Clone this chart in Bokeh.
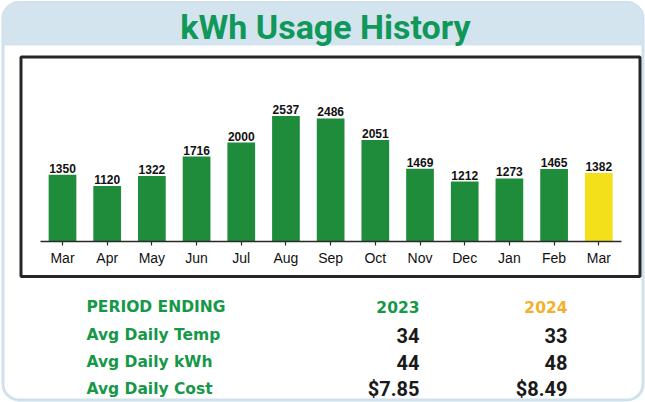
from bokeh.plotting import figure
from bokeh.models import BoxAnnotation, Label, ColumnDataSource, Range1d, FixedTicker
from bokeh.core.properties import value
from bokeh.embed import file_html
from bokeh.resources import INLINE

# ---- data ----
periods = ["Mar 2023", "Apr 2023", "May 2023", "Jun 2023", "Jul 2023", "Aug 2023",
           "Sep 2023", "Oct 2023", "Nov 2023", "Dec 2023", "Jan 2024", "Feb 2024", "Mar 2024"]
month_labels = ["Mar", "Apr", "May", "Jun", "Jul", "Aug", "Sep", "Oct", "Nov", "Dec", "Jan", "Feb", "Mar"]
kwh = [1350, 1120, 1322, 1716, 2000, 2537, 2486, 2051, 1469, 1212, 1273, 1465, 1382]

table_header = ["PERIOD ENDING", "2023", "2024"]
row_labels = ["Avg Daily Temp", "Avg Daily kWh", "Avg Daily Cost"]
values_2023 = ["34", "44", "$7.85"]
values_2024 = ["33", "48", "$8.49"]

# ---- styles ----
GREEN_BAR = "#1f8c3c"
YELLOW_BAR = "#f4e01a"
GREEN_TXT = "#169848"
TITLE_GREEN = "#10985a"
ORANGE_TXT = "#f4b02c"
BAND = "#d4e4ee"
CARD_LINE = "#cfe1ec"

idx = list(range(len(periods)))
bar_colors = [YELLOW_BAR if k == periods[-1] else GREEN_BAR for k in periods]

source = ColumnDataSource(dict(x=idx, period=periods, kwh=kwh,
                               label=[str(v) for v in kwh], color=bar_colors))

W, H = 645, 402
PX_X = 44.69          # pixels per category
X0 = 62               # canvas x of first category centre
BASE = 241            # canvas y of the zero line
PX_Y = 0.0495         # pixels per kWh

p = figure(x_range=Range1d(-X0 / PX_X, (W - X0) / PX_X),
           y_range=Range1d(-(H - BASE) / PX_Y, BASE / PX_Y),
           width=W, height=H, output_backend="svg", toolbar_location=None,
           y_axis_location=None,
           min_border_left=0, min_border_right=0, min_border_top=0, min_border_bottom=0)
p.xgrid.grid_line_color = None
p.ygrid.grid_line_color = None
p.outline_line_color = None
p.background_fill_color = "white"
p.border_fill_color = "white"

ax = p.xaxis[0]
ax.fixed_location = 0
ax.bounds = (-0.5, len(periods) - 0.5)
ax.ticker = FixedTicker(ticks=idx)
ax.axis_line_color = "#2a2a2a"
ax.axis_line_width = 1.5
ax.major_tick_in = 0
ax.major_tick_out = 4
ax.minor_tick_in = 0
ax.minor_tick_out = 0
ax.major_tick_line_color = "#2a2a2a"
ax.major_tick_line_width = 1.2
ax.major_label_text_font = "Liberation Sans"
ax.major_label_text_font_size = "14px"
ax.major_label_text_color = "#111111"
ax.major_label_standoff = 4
ax.major_label_overrides = {i: m for i, m in zip(idx, month_labels)}


def canvas_box(l, r, t, b, **kw):
    return BoxAnnotation(left=l, right=r, top=t, bottom=b,
                         left_units="canvas", right_units="canvas",
                         top_units="canvas", bottom_units="canvas", level="underlay", **kw)


# ---- card & frames ----
p.add_layout(canvas_box(2.5, 642.5, 2, 399.5, fill_color="white", fill_alpha=1,
                        line_color=CARD_LINE, line_alpha=1, line_width=3, border_radius=16))
p.add_layout(canvas_box(2.5, 642.5, 2, 45, fill_color=BAND, fill_alpha=1, line_color=None,
                        border_radius=(16, 16, 0, 0)))
p.add_layout(canvas_box(20.5, 639.5, 56.5, 276, fill_alpha=0, line_color="#262626",
                        line_alpha=1, line_width=3))

# ---- bars ----
p.vbar(x="x", top="kwh", width=0.62, fill_color="color", line_color=None, source=source)
p.text(x="x", y="kwh", text="label", source=source, text_align="center",
       text_baseline="bottom", y_offset=-2, text_font=value("Liberation Sans"),
       text_font_style="bold", text_font_size="12px", text_color="#111111")

# ---- title ----
p.add_layout(Label(x=325, y=26, x_units="canvas", y_units="canvas", text="kWh Usage History",
                   text_align="center", text_baseline="middle",
                   text_font="Roboto", text_font_style="bold",
                   text_font_size="34px", text_color=TITLE_GREEN))

# ---- table ----
row_y = [306.5, 334.5, 361.5, 388]
label_x, col1_x, col2_x = 86, 419, 567


def lab(x, y, t, color, font, size, align):
    p.add_layout(Label(x=x, y=y, x_units="canvas", y_units="canvas", text=t,
                       text_align=align, text_baseline="middle", text_font=font,
                       text_font_style="bold", text_font_size=size, text_color=color))


lab(label_x, row_y[0], table_header[0], GREEN_TXT, "DejaVu Sans", "15.5px", "left")
lab(col1_x, row_y[0], table_header[1], GREEN_TXT, "DejaVu Sans", "15.5px", "right")
lab(col2_x, row_y[0], table_header[2], ORANGE_TXT, "DejaVu Sans", "15.5px", "right")
for i, name in enumerate(row_labels):
    y = row_y[i + 1]
    lab(label_x, y, name, GREEN_TXT, "DejaVu Sans", "15.5px", "left")
    lab(col1_x, y, values_2023[i], "#1a1a1a", "Roboto", "20px", "right")
    lab(col2_x, y, values_2024[i], "#1a1a1a", "Roboto", "20px", "right")

open("out.html", "w").write(file_html(p, INLINE))
